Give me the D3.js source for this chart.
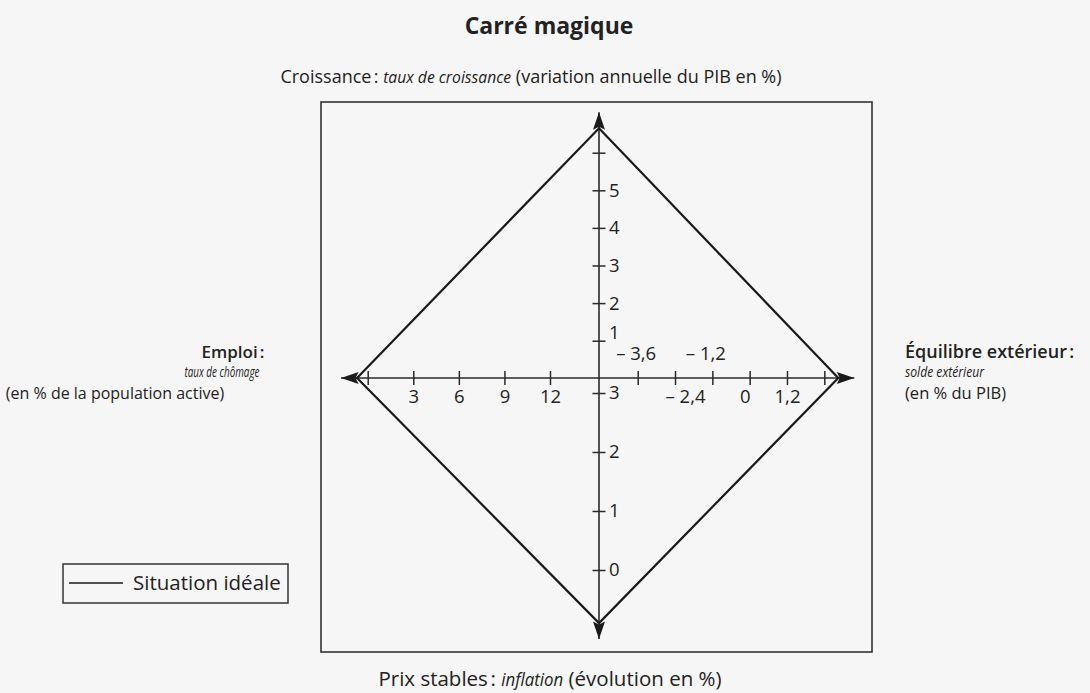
<!DOCTYPE html>
<html><head><meta charset="utf-8">
<script src="https://cdn.jsdelivr.net/npm/d3@7"></script>
<style>
html,body{margin:0;padding:0;background:#f6f6f6;}
svg{display:block;font-family:"Open Sans",sans-serif;}
</style></head><body>
<svg id="chart" width="1090" height="693"></svg>
<script>
// ---------- DATA ----------
const chartTitle = "Carré magique";
const dimensions = ["Croissance", "Équilibre extérieur", "Prix stables", "Emploi"];
const idealValues = [6.65, 2.85, -0.9, -0.7];   // same order as dimensions
const growthTicks = [1, 2, 3, 4, 5, 6];
const growthTickLabels = ["1", "2", "3", "4", "5", ""];
const inflationTicks = [0, 1, 2, 3];
const inflationTickLabels = ["0", "1", "2", "3"];
const unemploymentTicks = [0, 3, 6, 9, 12];
const unemploymentTickLabels = ["", "3", "6", "9", "12"];
const externalTicks = [-3.6, -2.4, -1.2, 0, 1.2, 2.4];
const externalTickLabels = ["– 3,6", "– 2,4", "– 1,2", "0", "1,2", ""];
const legendLabel = "Situation idéale";

// ---------- LAYOUT ----------
const svg = d3.select("#chart");
const cx = 599, cy = 378;
const ink = "#222";

const yGrowth = d3.scaleLinear().domain([0, 6]).range([378.3, 152.7]);
const yInfl = d3.scaleLinear().domain([0, 3]).range([570, 393]);
const xUnemp = d3.scaleLinear().domain([0, 12]).range([367.7, 550]);
const xExt = d3.scaleLinear().domain([-3.6, 2.4]).range([637.7, 824.3]);

// frame
svg.append("rect").attr("x", 321).attr("y", 102).attr("width", 551).attr("height", 550)
  .attr("fill", "none").attr("stroke", "#333").attr("stroke-width", 1.6);

// vertices
const vTop = [cx, yGrowth(idealValues[0])];
const vRight = [xExt(idealValues[1]), cy];
const vBottom = [cx, yInfl(idealValues[2])];
const vLeft = [xUnemp(idealValues[3]), cy];
const arrowLen = 16;

// axis lines
svg.append("line").attr("x1", cx).attr("x2", cx)
  .attr("y1", vTop[1] - arrowLen).attr("y2", vBottom[1] + arrowLen)
  .attr("stroke", "#2a2a2a").attr("stroke-width", 1.6);
svg.append("line").attr("y1", cy).attr("y2", cy)
  .attr("x1", vLeft[0] - arrowLen).attr("x2", vRight[0] + arrowLen)
  .attr("stroke", "#2a2a2a").attr("stroke-width", 1.6);

// axes with D3
function styleAxis(g, vertical) {
  g.select(".domain").remove();
  g.selectAll(".tick line").attr("stroke", "#2a2a2a").attr("stroke-width", 1.5);
  if (vertical) g.selectAll(".tick line").attr("x1", -6.5).attr("x2", 6.5);
  else g.selectAll(".tick line").attr("y1", -7).attr("y2", 7);
  g.selectAll(".tick text").attr("fill", ink).attr("font-size", 18.5)
    .attr("font-family", '"Open Sans",sans-serif');
}
const gGrowth = svg.append("g").attr("transform", `translate(${cx},0)`)
  .call(d3.axisRight(yGrowth).tickValues(growthTicks).tickFormat((d, i) => growthTickLabels[i]));
styleAxis(gGrowth, true);
gGrowth.selectAll(".tick text").attr("x", 10).attr("dy", (d) => d === 1 ? "-0.1em" : "0.32em");

const gInfl = svg.append("g").attr("transform", `translate(${cx},0)`)
  .call(d3.axisRight(yInfl).tickValues(inflationTicks).tickFormat((d, i) => inflationTickLabels[i]));
styleAxis(gInfl, true);
gInfl.selectAll(".tick text").attr("x", 10);

const gUnemp = svg.append("g").attr("transform", `translate(0,${cy})`)
  .call(d3.axisBottom(xUnemp).tickValues(unemploymentTicks).tickFormat((d, i) => unemploymentTickLabels[i]));
styleAxis(gUnemp, false);
gUnemp.selectAll(".tick text").attr("y", 24.5).attr("dy", 0);

const gExt = svg.append("g").attr("transform", `translate(0,${cy})`)
  .call(d3.axisBottom(xExt).tickValues(externalTicks).tickFormat((d, i) => externalTickLabels[i]));
styleAxis(gExt, false);
const extPlacement = new Map([[-3.6, [-18.5, -2]], [-2.4, [24.5, 10]], [-1.2, [-18.5, -7]], [0, [24.5, -5]], [1.2, [24.5, 0]], [2.4, [24.5, 0]]]);
gExt.selectAll(".tick text").attr("dy", 0)
  .attr("y", d => extPlacement.get(d)[0]).attr("x", d => extPlacement.get(d)[1]);

// diamond
svg.append("path")
  .attr("d", d3.line().curve(d3.curveLinearClosed)([vTop, vRight, vBottom, vLeft]))
  .attr("fill", "none").attr("stroke", "#1a1a1a").attr("stroke-width", 2.2)
  .attr("stroke-linejoin", "miter");

// arrowheads
const arrowPath = "M0,-16 L6,1.5 L0,-1.5 L-6,1.5 Z";
[[vTop, 0], [vRight, 90], [vBottom, 180], [vLeft, 270]].forEach(([v, a]) => {
  svg.append("path").attr("d", arrowPath)
    .attr("transform", `translate(${v[0]},${v[1]}) rotate(${a})`)
    .attr("fill", "#1a1a1a");
});

// title
svg.append("text").attr("x", 549).attr("y", 34).attr("text-anchor", "middle")
  .attr("font-size", 23).attr("font-weight", 700).attr("fill", ink).text(chartTitle);

// composed label: parts laid out left to right, centred on cxText
function composeLabel(parts, cxText, y) {
  const g = svg.append("g");
  const nodes = parts.map(p => {
    const t = g.append("text").attr("y", y).attr("fill", ink)
      .attr("font-size", p.size).attr("font-style", p.italic ? "italic" : null)
      .attr("xml:space", "preserve").style("white-space", "pre").text(p.text);
    if (p.width) t.attr("textLength", p.width).attr("lengthAdjust", "spacingAndGlyphs");
    return t;
  });
  const widths = nodes.map((t, i) => parts[i].width || t.node().getComputedTextLength());
  let x = cxText - d3.sum(widths) / 2;
  nodes.forEach((t, i) => { t.attr("x", x); x += widths[i]; });
}

composeLabel([
  {text: dimensions[0] + "\u202F: ", size: 18},
  {text: "taux de croissance", size: 16.5, italic: true, width: 128},
  {text: " (variation annuelle du PIB en %)", size: 18}
], 531, 83);

composeLabel([
  {text: dimensions[2] + "\u202F: ", size: 20.5},
  {text: "inflation", size: 18.5, italic: true, width: 62},
  {text: " (évolution en %)", size: 20.5}
], 550, 686);

// left label
svg.append("text").attr("x", 233).attr("y", 358).attr("text-anchor", "middle")
  .attr("font-size", 17).attr("font-weight", 600).attr("fill", ink).text(dimensions[3] + "\u202F:");
svg.append("text").attr("x", 222).attr("y", 377).attr("text-anchor", "middle")
  .attr("font-size", 15).attr("font-style", "italic").attr("fill", ink)
  .attr("textLength", 75).attr("lengthAdjust", "spacingAndGlyphs").text("taux de chômage");
svg.append("text").attr("x", 115).attr("y", 398.5).attr("text-anchor", "middle")
  .attr("font-size", 16).attr("fill", ink).text("(en % de la population active)");

// right label
svg.append("text").attr("x", 905).attr("y", 358)
  .attr("font-size", 18).attr("font-weight", 600).attr("fill", ink).text(dimensions[1] + "\u202F:");
svg.append("text").attr("x", 905).attr("y", 377)
  .attr("font-size", 15).attr("font-style", "italic").attr("fill", ink)
  .attr("textLength", 79).attr("lengthAdjust", "spacingAndGlyphs").text("solde extérieur");
svg.append("text").attr("x", 905).attr("y", 398.5)
  .attr("font-size", 16.5).attr("fill", ink).text("(en % du PIB)");

// legend
svg.append("rect").attr("x", 63).attr("y", 564).attr("width", 225).attr("height", 39)
  .attr("fill", "none").attr("stroke", "#333").attr("stroke-width", 1.5);
svg.append("line").attr("x1", 69).attr("x2", 123).attr("y1", 583).attr("y2", 583)
  .attr("stroke", "#1a1a1a").attr("stroke-width", 1.6);
svg.append("text").attr("x", 133).attr("y", 590).attr("font-size", 20.5).attr("fill", ink).text(legendLabel);
</script>
</body></html>
